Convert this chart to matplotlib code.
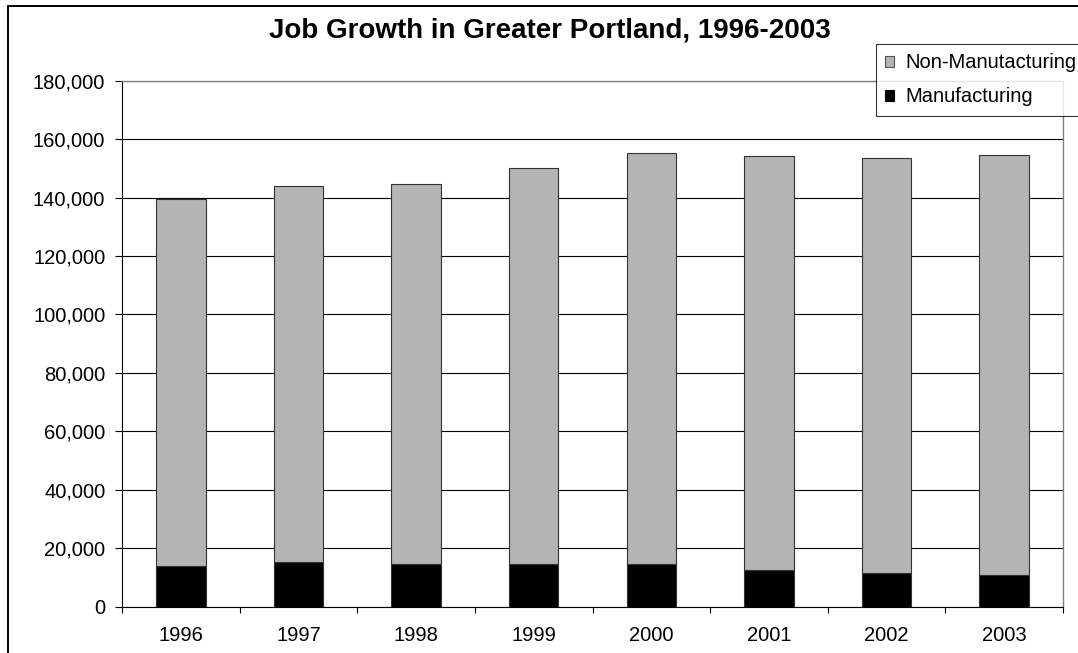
import matplotlib

matplotlib.use("Agg")

import matplotlib.pyplot as plt
from matplotlib.patches import Rectangle
from matplotlib.ticker import FuncFormatter

years = ["1996", "1997", "1998", "1999", "2000", "2001", "2002", "2003"]
manufacturing = [14000, 15400, 14700, 14700, 14700, 12700, 11400, 10700]
non_manufacturing = [125500, 128600, 130000, 135400, 140600, 141400, 142000, 143900]

plt.rcParams["font.family"] = ["Liberation Sans", "DejaVu Sans"]

W, H = 1078, 653
fig = plt.figure(figsize=(W / 100, H / 100), dpi=100)
ax = fig.add_axes([122 / W, (H - 606.7) / H, (1063 - 122) / W, (606.7 - 80.6) / H])

x = range(len(years))
grey = "#b4b4b4"
edge = "#333333"

ax.bar(x, manufacturing, width=0.42, color="black", edgecolor=edge, linewidth=0.8, zorder=3)
ax.bar(x, non_manufacturing, width=0.42, bottom=manufacturing, color=grey,
       edgecolor=edge, linewidth=0.8, zorder=3)

ax.set_xlim(-0.5, len(years) - 0.5)
ax.set_ylim(0, 180000)
ax.set_yticks(range(0, 180001, 20000))
ax.yaxis.set_major_formatter(FuncFormatter(lambda v, p: f"{int(v):,}"))
ax.grid(axis="y", color="black", linewidth=0.8, zorder=0)

# category boundaries get the tick marks, year labels sit between them
ax.set_xticks([i - 0.5 for i in range(len(years) + 1)])
ax.set_xticklabels([])
ax.set_xticks(list(x), minor=True)
ax.set_xticklabels(years, minor=True)
ax.tick_params(axis="x", which="major", direction="out", length=4, width=0.8, color="black")
ax.tick_params(axis="x", which="minor", length=0, pad=14, labelsize=14.5)
ax.tick_params(axis="y", direction="out", length=5, width=0.8, pad=7, labelsize=14.5)

for side in ["left", "bottom"]:
    ax.spines[side].set_color("black")
    ax.spines[side].set_linewidth(0.8)
for side in ["top", "right"]:
    ax.spines[side].set_color("#808080")
    ax.spines[side].set_linewidth(1.0)

fig.text(550 / W, 1 - 31 / H, "Job Growth in Greater Portland, 1996-2003",
         ha="center", va="center", fontsize=20, fontweight="bold")

handles = [
    Rectangle((0, 0), 1, 1, facecolor=grey, edgecolor="#555555", linewidth=0.8),
    Rectangle((0, 0), 1, 1, facecolor="black", edgecolor="black", linewidth=0.8),
]
leg = fig.legend(handles, ["Non-Manutacturing", "Manufacturing"],
                 loc="upper left", bbox_to_anchor=(875.7 / W, 1 - 44.3 / H),
                 fontsize=14.5, frameon=True, fancybox=False, shadow=False,
                 handlelength=0.45, handleheight=0.45, handletextpad=0.55,
                 borderpad=0.45, labelspacing=0.75, borderaxespad=0)
leg.get_frame().set_edgecolor("black")
leg.get_frame().set_linewidth(0.8)

# outer chart border
fig.patches.append(Rectangle((8 / W, -0.1), 1.2, 1.1 - 5.5 / H, transform=fig.transFigure,
                             fill=False, edgecolor="black", linewidth=1.4))

fig.savefig("out.png", dpi=100)
